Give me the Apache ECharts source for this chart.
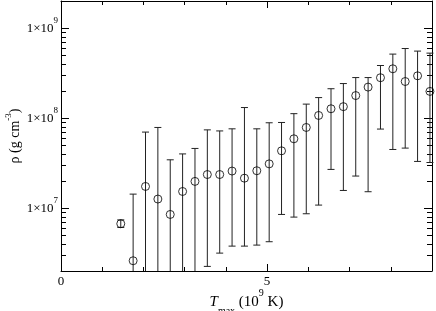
<!DOCTYPE html>
<html>
<head>
<meta charset="utf-8">
<script src="https://cdn.jsdelivr.net/npm/echarts@6/dist/echarts.min.js"></script>
<style>html,body{margin:0;padding:0;background:#fff}#c{width:436px;height:311px}</style>
</head>
<body>
<div id="c"></div>
<script>
// T_max (10^9 K)
var tmax = [1.45, 1.75, 2.05, 2.35, 2.65, 2.95, 3.25, 3.55, 3.85, 4.15, 4.45, 4.75, 5.05,
            5.35, 5.65, 5.95, 6.25, 6.55, 6.85, 7.15, 7.45, 7.75, 8.05, 8.35, 8.65, 8.95];
// rho (g cm^-3)
var rho = [6.7e6, 2.6e6, 1.74e7, 1.26e7, 8.5e6, 1.53e7, 1.98e7, 2.36e7, 2.36e7, 2.58e7, 2.15e7, 2.6e7, 3.1e7,
           4.33e7, 5.89e7, 7.87e7, 1.07e8, 1.27e8, 1.34e8, 1.78e8, 2.21e8, 2.81e8, 3.53e8, 2.55e8, 2.95e8, 1.98e8];
var rhoHigh = [7.4e6, 1.43e7, 6.99e7, 7.87e7, 3.44e7, 4.0e7, 4.6e7, 7.4e7, 7.2e7, 7.6e7, 1.31e8, 7.6e7, 8.87e7,
               8.94e7, 1.12e8, 1.43e8, 1.69e8, 2.12e8, 2.42e8, 2.82e8, 2.82e8, 3.84e8, 5.14e8, 5.93e8, 5.55e8, 5.27e8];
var rhoLow = [6.1e6, 1.0e6, 1.0e6, 1.0e6, 1.0e6, 1.0e6, 1.0e6, 2.25e6, 3.16e6, 3.78e6, 3.78e6, 3.88e6, 4.23e6,
              8.5e6, 7.94e6, 8.65e6, 1.08e7, 2.69e7, 1.57e7, 2.27e7, 1.52e7, 7.55e7, 4.48e7, 4.64e7, 3.3e7, 3.21e7];
var xMajorTicks = [0, 5];
var xMinorTicks = [1, 2, 3, 4, 6, 7, 8];
var yMajorTicks = [1e7, 1e8, 1e9];
var yMinorTicks = [3e6, 4e6, 5e6, 6e6, 7e6, 8e6, 9e6, 2e7, 3e7, 4e7, 5e7, 6e7, 7e7, 8e7, 9e7,
                   2e8, 3e8, 4e8, 5e8, 6e8, 7e8, 8e8, 9e8];

var FONT = 'Liberation Serif';
var chart = echarts.init(document.getElementById('c'), null, {renderer: 'canvas'});

function xAx(pos, ticks, len, showLine, labels, extra) {
  var o = {
    type: 'value', position: pos, min: 0, max: 9, gridIndex: 0,
    axisLine: {show: showLine, onZero: false, lineStyle: {color: '#000', width: 1}},
    axisTick: {show: true, inside: true, length: len, customValues: ticks, lineStyle: {color: '#000', width: 1}},
    axisLabel: labels ? {show: true, customValues: labels, margin: 4, color: '#000',
                 fontFamily: FONT, fontSize: 13} : {show: false},
    splitLine: {show: false}
  };
  for (var k in extra || {}) o[k] = extra[k];
  return o;
}
function yAx(pos, ticks, len, showLine, labels, extra) {
  var o = {
    type: 'log', logBase: 10, position: pos, min: 2e6, max: 2e9, gridIndex: 0,
    axisLine: {show: showLine, onZero: false, lineStyle: {color: '#000', width: 1}},
    axisTick: {show: true, inside: true, length: len, customValues: ticks, lineStyle: {color: '#000', width: 1}},
    axisLabel: labels ? {
      show: true, customValues: labels, margin: 3, color: '#000',
      formatter: function (v) { return '{a|1×10}{s|' + Math.round(Math.log10(v)) + '}'; },
      rich: {
        a: {fontFamily: FONT, fontSize: 13, color: '#000', lineHeight: 24, verticalAlign: 'middle'},
        s: {fontFamily: FONT, fontSize: 9, color: '#000', lineHeight: 12, verticalAlign: 'top'}
      }
    } : {show: false},
    splitLine: {show: false}
  };
  for (var k in extra || {}) o[k] = extra[k];
  return o;
}

var option = {
  backgroundColor: '#fff',
  animation: false,
  grid: {left: 61, right: 4, top: 1, bottom: 40, containLabel: false, outerBoundsMode: 'none'},
  xAxis: [
    xAx('bottom', xMajorTicks, 7, true, xMajorTicks, {
      name: '{i|T}{sub|max}{n| (10}{sup|9}{n| K)}',
      nameLocation: 'middle', nameGap: 17, nameMoveOverlap: false,
      nameTextStyle: {
        rich: {
          i: {fontFamily: FONT, fontStyle: 'italic', fontSize: 15, color: '#000', lineHeight: 28, verticalAlign: 'middle'},
          n: {fontFamily: FONT, fontSize: 15, color: '#000', lineHeight: 28, verticalAlign: 'middle'},
          sub: {fontFamily: FONT, fontSize: 10, color: '#000', lineHeight: 20, verticalAlign: 'bottom'},
          sup: {fontFamily: FONT, fontSize: 10, color: '#000', lineHeight: 10, verticalAlign: 'top'}
        }
      }
    }),
    xAx('bottom', xMinorTicks, 4, false, null),
    xAx('top', xMajorTicks.slice(1), 7, true, null),
    xAx('top', xMinorTicks.concat([]), 4, false, null)
  ],
  yAxis: [
    yAx('left', yMajorTicks, 8, true, yMajorTicks, {
      name: '{n|ρ (g cm}{sup|-3}{n|)}',
      nameLocation: 'middle', nameGap: 35, nameRotate: 90, nameMoveOverlap: false,
      nameTextStyle: {
        rich: {
          n: {fontFamily: FONT, fontSize: 14, color: '#000', lineHeight: 22, verticalAlign: 'middle'},
          sup: {fontFamily: FONT, fontSize: 9, color: '#000', lineHeight: 10, verticalAlign: 'top'}
        }
      }
    }),
    yAx('left', yMinorTicks, 5, false, null),
    yAx('right', yMajorTicks, 8, true, null),
    yAx('right', yMinorTicks, 5, false, null)
  ],
  series: [
    {
      type: 'custom', xAxisIndex: 0, yAxisIndex: 0,
      data: tmax.map(function (t, i) { return [t, rhoLow[i], rhoHigh[i]]; }),
      renderItem: function (params, api) {
        var x = api.value(0), lo = api.value(1), hi = api.value(2);
        var pHi = api.coord([x, hi]), pLo = api.coord([x, lo]);
        var cs = params.coordSys;
        var top = cs.y, bottom = cs.y + cs.height;
        var yHi = Math.max(pHi[1], top), yLo = Math.min(pLo[1], bottom);
        var st = {stroke: '#222', lineWidth: 1};
        var ch = [{type: 'line', shape: {x1: pHi[0], y1: yHi, x2: pHi[0], y2: yLo}, style: st}];
        var cw = 3.5;
        if (pHi[1] >= top) ch.push({type: 'line', shape: {x1: pHi[0] - cw, y1: pHi[1], x2: pHi[0] + cw, y2: pHi[1]}, style: st});
        if (pLo[1] <= bottom) ch.push({type: 'line', shape: {x1: pLo[0] - cw, y1: pLo[1], x2: pLo[0] + cw, y2: pLo[1]}, style: st});
        return {type: 'group', children: ch};
      },
      z: 2
    },
    {
      type: 'scatter', xAxisIndex: 0, yAxisIndex: 0,
      data: tmax.map(function (t, i) { return [t, rho[i]]; }),
      symbol: 'circle', symbolSize: 8,
      itemStyle: {color: 'rgba(0,0,0,0)', borderColor: '#000', borderWidth: 1},
      clip: false,
      z: 3
    }
  ]
};
chart.setOption(option);
</script>
</body>
</html>
